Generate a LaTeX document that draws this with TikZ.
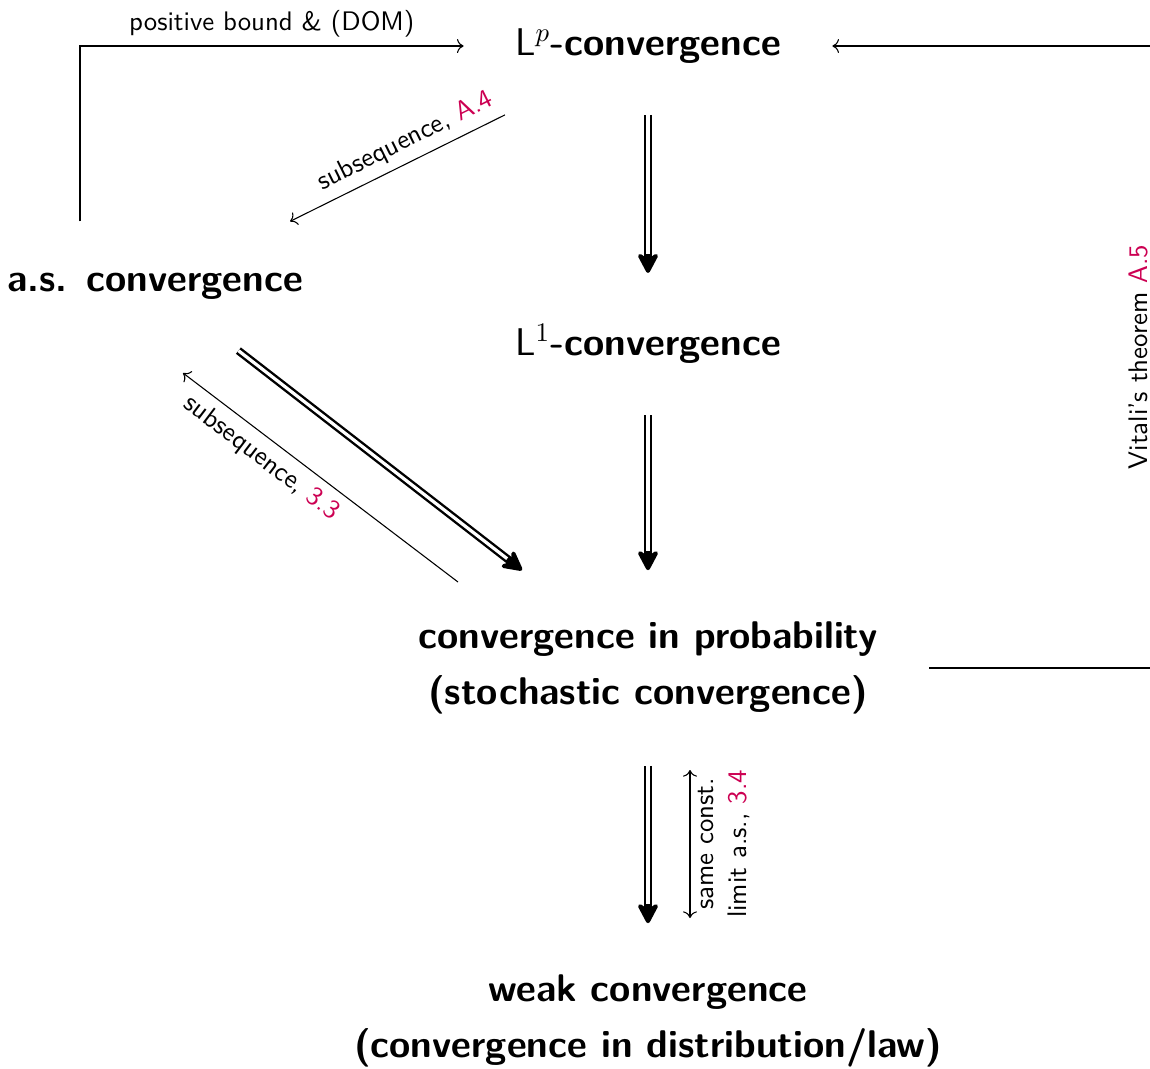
\documentclass[tikz,border=0pt]{standalone}
\usepackage{amsmath,amssymb}
\usepackage{tikz}
\usetikzlibrary{arrows.meta, positioning, calc}

\definecolor{refred}{RGB}{204,0,82}
\newcommand{\refno}[1]{\textcolor{refred}{#1}}

\begin{document}
\begin{tikzpicture}[
    x=0.373pt, y=-0.373pt,
    conv/.style={font=\Large\sffamily\bfseries, align=center, inner sep=19pt},
    note/.style={font=\sffamily, inner sep=3pt},
    implies/.style={line width=3pt, -{Stealth[length=9.5pt, width=10pt, inset=3.5pt, line width=1.6pt, round]},
        postaction={draw=white, line width=1.2pt, arrows=-, shorten >=7pt}},
    arrow/.style={thin, -{To}},
    bothways/.style={thin, {To}-{To}},
]
    \useasboundingbox (0,0) rectangle (1150,1068);

    % Modes of convergence
    \node (lp) [conv] at (648,46) {$\mathsf{L}^p$-convergence};
    \node (l1) [conv] at (648,344) {$\mathsf{L}^1$-convergence};
    \node (as) [conv] at (155,286) {a.s.\hspace{0.5em}convergence};
    \node (prob) [conv] at (648,668) {convergence in probability\\[3pt] (stochastic convergence)};
    \node (weak) [conv] at (648,1021) {weak convergence\\[3pt] (convergence in distribution/law)};

    % Helper columns for the long detours
    \coordinate (loopx) at (80,0);
    \coordinate (vitx) at (1157,0);

    % Implications
    \draw [implies] (lp) -- (l1);
    \draw [implies] (l1) -- (prob);
    \draw [implies] (prob) -- (weak);
    \draw [implies] (as) -- (prob);

    % Partial converses
    \draw [arrow] (as.north -| loopx) |- node[note, above, pos=0.75] {positive bound \& (DOM)} (lp.west);
    \draw [arrow] ([shift={(-143,0)}]lp.south) -- node[note, sloped, above, pos=0.42] {subsequence, \refno{A.4}} ([shift={(135,0)}]as.north);
    \draw [arrow] ([shift={(-190,-86)}]prob.center) -- node[note, sloped, below, pos=0.67] {subsequence, \refno{3.3}} ([shift={(28,87)}]as.center);
    \draw [bothways] ([shift={(42,-103)}]weak.center) -- node[note, sloped, below, align=center] {same const.\\ limit a.s., \refno{3.4}} ([shift={(42,102)}]prob.center);
    \draw [arrow] (prob.east) -- (prob.east -| vitx) -- node[note, sloped, above] {Vitali's theorem \refno{A.5}} (lp.east -| vitx) -- (lp.east);

\end{tikzpicture}
\end{document}
